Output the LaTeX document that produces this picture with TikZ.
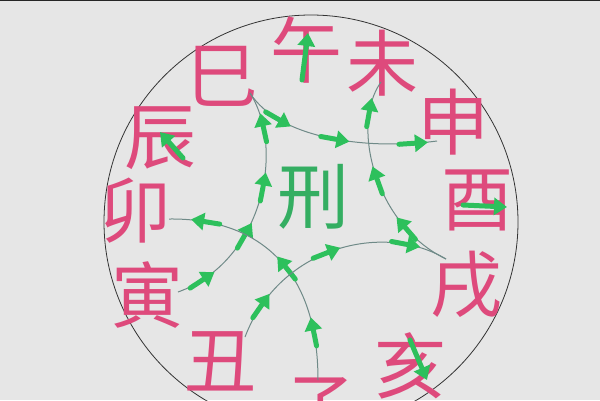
\documentclass[tikz,border=0pt]{standalone}
\usepackage{fontspec}
\newfontfamily\cjk{Noto Sans CJK SC}
\usetikzlibrary{arrows.meta,decorations.markings}
\definecolor{bg}{HTML}{E6E6E6}
\definecolor{zhipink}{HTML}{DE4A7C}
\definecolor{agreen}{HTML}{2DC05C}
\definecolor{xgreen}{HTML}{34AE62}
\definecolor{linkgray}{HTML}{6F8A88}
\tikzset{
  zhi/.style={text=zhipink, font=\cjk\fontsize{72}{72}\selectfont, inner sep=0pt},
  link/.style={draw=linkgray, line width=1pt},
  garrow/.style={draw=agreen, line width=5pt, line cap=round,
    -{Triangle[length=13pt,width=17pt]}},
  ga/.style={postaction={decorate, decoration={markings,
      mark=at position #1 with {\draw[garrow] (-16pt,0pt) -- (13pt,0pt);}}}}
}

\begin{document}
\begin{tikzpicture}[x=1pt, y=-1pt]
  \useasboundingbox (0,0) rectangle (600,400);
  \fill[bg] (0,0) rectangle (600,400);
  \draw[black!85, line width=2pt] (0,0) -- (600,0);
  \draw[black!80, line width=0.8pt] (311,222) circle (207pt);

  % twelve branches
  \node[zhi] (wu) at (306,50) {午};
  \node[zhi] (wei) at (382,63) {未};
  \node[zhi] (shen) at (453,122) {申};
  \node[zhi] (you) at (477,200) {酉};
  \node[zhi] (xu) at (466,285) {戌};
  \node[zhi] (hai) at (410,366) {亥};
  \node[zhi] (zi) at (320,408) {子};
  \node[zhi] (chou) at (220,361) {丑};
  \node[zhi] (yin) at (147,295) {寅};
  \node[zhi] (mao) at (135,211) {卯};
  \node[zhi] (chen) at (160,138) {辰};
  \node[zhi] (si) at (222,76) {巳};
  \node[zhi, text=xgreen] (xing) at (313,197) {刑};

  % curve ends
  \coordinate (yinE) at (178,292);
  \coordinate (siE) at (250,93);
  \coordinate (shenE) at (437,141);
  \coordinate (ziE) at (318,380);
  \coordinate (maoE) at (169,219);
  \coordinate (chouE) at (245,337);
  \coordinate (xuE) at (446,259);
  \coordinate (weiE) at (381,82);

  \draw[link, ga=0.12, ga=0.38, ga=0.6, ga=0.85] (yinE) .. controls (262,262) and (286,150) .. (siE);
  \draw[link, ga=0.2, ga=0.5, ga=0.89] (siE) .. controls (280,140) and (370,150) .. (shenE);
  \draw[link, ga=0.2, ga=0.48, ga=0.86] (ziE) .. controls (318,265) and (255,218) .. (maoE);
  \draw[link, ga=0.15, ga=0.5, ga=0.83] (chouE) .. controls (280,245) and (385,222) .. (xuE);
  \draw[link, ga=0.25, ga=0.52, ga=0.85] (xuE) .. controls (375,225) and (350,125) .. (weiE);

  % self arrows
  \draw[garrow] (302,80) -- (308,33);
  \draw[garrow] (183,158) -- (160,132);
  \draw[garrow] (463,205) -- (507,207);
  \draw[garrow] (410,340) -- (427,380);
\end{tikzpicture}
\end{document}
